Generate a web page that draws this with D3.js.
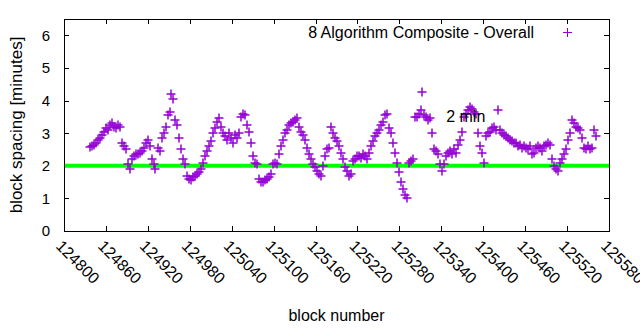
<!DOCTYPE html>
<html>
<head>
<meta charset="utf-8">
<script src="https://cdn.jsdelivr.net/npm/d3@7"></script>
<style>
  body { margin: 0; background: #fff; }
  svg { font-family: "Liberation Sans", Arial, sans-serif; }
</style>
</head>
<body>
<div id="chart"></div>
<script>
// block numbers and spacing
var blocks = [
  124837, 124840, 124843, 124846, 124849, 124852, 124854, 124857, 124860, 124863,
  124866, 124869, 124872, 124874, 124877, 124880, 124883, 124886, 124889, 124892,
  124894, 124897, 124900, 124903, 124906, 124909, 124912, 124914, 124917, 124920,
  124923, 124926, 124929, 124930, 124935, 124937, 124940, 124943, 124946, 124949,
  124952, 124953, 124956, 124959, 124962, 124965, 124967, 124970, 124973, 124976,
  124979, 124982, 124985, 124987, 124990, 124993, 124996, 124999, 125002, 125005,
  125008, 125010, 125013, 125016, 125019, 125022, 125025, 125028, 125030, 125033,
  125036, 125039, 125042, 125045, 125048, 125050, 125053, 125056, 125059, 125062,
  125065, 125068, 125070, 125073, 125076, 125079, 125082, 125085, 125088, 125091,
  125093, 125096, 125099, 125102, 125105, 125108, 125111, 125113, 125116, 125119,
  125122, 125125, 125128, 125131, 125133, 125136, 125139, 125142, 125145, 125148,
  125151, 125154, 125156, 125159, 125162, 125165, 125168, 125171, 125174, 125176,
  125179, 125182, 125185, 125188, 125191, 125194, 125196, 125199, 125202, 125205,
  125208, 125211, 125214, 125216, 125219, 125222, 125225, 125228, 125231, 125234,
  125237, 125239, 125242, 125245, 125248, 125251, 125254, 125257, 125259, 125262,
  125265, 125268, 125271, 125274, 125277, 125279, 125282, 125285, 125288, 125291,
  125294, 125297, 125299, 125302, 125305, 125308, 125311, 125312, 125315, 125318,
  125321, 125324, 125327, 125330, 125332, 125335, 125338, 125341, 125344, 125347,
  125350, 125352, 125355, 125358, 125361, 125364, 125367, 125370, 125372, 125375,
  125378, 125381, 125384, 125387, 125390, 125393, 125395, 125398, 125401, 125404,
  125407, 125410, 125413, 125415, 125418, 125421, 125424, 125427, 125430, 125433,
  125436, 125438, 125441, 125444, 125447, 125450, 125453, 125455, 125458, 125461,
  125464, 125467, 125470, 125473, 125476, 125478, 125481, 125484, 125487, 125490,
  125493, 125496, 125498, 125501, 125504, 125507, 125510, 125513, 125516, 125518,
  125521, 125524, 125527, 125530, 125533, 125536, 125538, 125541, 125544, 125547,
  125550, 125553, 125556, 125559, 125561
];

var spacing = [
  2.57, 2.6, 2.65, 2.7, 2.8, 2.85, 2.95, 3.05, 3.15, 3.1,
  3.25, 3.3, 3.2, 3.15, 3.25, 3.2, 2.7, 2.6, 2.5, 2.05,
  1.9, 2.2, 2.3, 2.35, 2.35, 2.4, 2.45, 2.55, 2.7, 2.8,
  2.6, 2.2, 2.05, 1.9, 2.55, 2.45, 2.85, 3.0, 3.2, 3.55,
  3.65, 4.2, 4.05, 3.4, 3.25, 2.85, 2.5, 2.2, 2.05, 1.7,
  1.6, 1.55, 1.65, 1.7, 1.75, 1.8, 1.9, 2.1, 2.3, 2.45,
  2.6, 2.75, 3.0, 3.15, 3.35, 3.45, 3.2, 3.0, 2.9, 2.8,
  3.0, 2.85, 2.7, 2.95, 2.85, 3.0, 3.5, 3.6, 3.55, 3.25,
  3.05, 2.7, 2.3, 2.1, 2.05, 1.6, 1.5, 1.5, 1.55, 1.6,
  1.65, 1.75, 2.05, 2.1, 2.05, 2.35, 2.6, 2.8, 3.0, 3.1,
  3.25, 3.3, 3.35, 3.4, 3.45, 3.2, 3.05, 2.95, 2.8, 2.55,
  2.35, 2.2, 2.05, 1.95, 1.85, 1.75, 1.7, 2.0, 2.3, 2.5,
  2.55, 3.2, 3.0, 2.85, 2.75, 2.6, 2.4, 2.2, 1.95, 1.85,
  1.7, 1.75, 2.15, 2.2, 2.3, 2.3, 2.25, 2.35, 2.3, 2.2,
  2.4, 2.6, 2.75, 2.9, 3.0, 3.1, 3.25, 3.35, 3.55, 3.6,
  3.15, 3.0, 2.7, 2.4, 2.1, 1.8, 1.5, 1.3, 1.1, 1.0,
  2.1, 2.15, 2.2, 3.5, 3.5, 3.6, 3.7, 4.25, 3.55, 3.5,
  3.4, 3.45, 3.0, 2.5, 2.45, 2.35, 2.05, 1.85, 2.05, 2.3,
  2.4, 2.45, 2.35, 2.5, 2.4, 2.65, 2.8, 3.05, 3.5, 3.6,
  3.7, 3.8, 3.75, 3.65, 3.6, 3.0, 2.6, 2.4, 2.1, 2.9,
  3.0, 3.05, 3.15, 3.2, 3.1, 3.7, 3.1, 3.0, 2.95, 2.9,
  2.85, 2.8, 2.75, 2.7, 2.7, 2.6, 2.65, 2.55, 2.6, 2.55,
  2.5, 2.6, 2.35, 2.4, 2.55, 2.6, 2.55, 2.45, 2.6, 2.65,
  2.7, 2.65, 2.2, 2.0, 1.9, 1.85, 2.1, 2.2, 2.35, 2.5,
  2.8, 3.0, 3.4, 3.3, 3.2, 3.15, 3.1, 2.85, 2.55, 2.5,
  2.6, 2.5, 2.55, 3.1, 2.9
];

var xTicks = [124800, 124860, 124920, 124980, 125040, 125100, 125160,
              125220, 125280, 125340, 125400, 125460, 125520, 125580];
var yTicks = [0, 1, 2, 3, 4, 5, 6];
var target = 2;
var seriesName = "8 Algorithm Composite - Overall";
var targetLabel = "2 min";
var targetLabelAt = [125347, 3.5];

var W = 640, H = 330,
    margin = {top: 19, right: 31, bottom: 99, left: 64},
    width = W - margin.left - margin.right,
    height = H - margin.top - margin.bottom;

var PURPLE = "#9400d3", GREEN = "#00ff00";

var svg = d3.select("#chart").append("svg")
    .attr("width", W)
    .attr("height", H);

var g = svg.append("g")
    .attr("transform", "translate(" + margin.left + "," + margin.top + ")");

var x = d3.scaleLinear().domain([124800, 125580]).range([0, width]);
var y = d3.scaleLinear().domain([0, 6.5]).range([height, 0]);

// tick marks, mirrored on all four sides
var tickLen = 5;
var ticks = g.append("g")
    .attr("stroke", "#000")
    .attr("shape-rendering", "crispEdges");
ticks.selectAll(".xb")
    .data(xTicks)
    .join("line")
    .attr("class", "xb")
    .attr("x1", function (d) { return Math.round(x(d)) + 0.5; })
    .attr("x2", function (d) { return Math.round(x(d)) + 0.5; })
    .attr("y1", height)
    .attr("y2", height - tickLen);
ticks.selectAll(".xt")
    .data(xTicks)
    .join("line")
    .attr("class", "xt")
    .attr("x1", function (d) { return Math.round(x(d)) + 0.5; })
    .attr("x2", function (d) { return Math.round(x(d)) + 0.5; })
    .attr("y1", 0)
    .attr("y2", tickLen);
ticks.selectAll(".yl")
    .data(yTicks)
    .join("line")
    .attr("class", "yl")
    .attr("y1", function (d) { return Math.round(y(d)) + 0.5; })
    .attr("y2", function (d) { return Math.round(y(d)) + 0.5; })
    .attr("x1", 0)
    .attr("x2", tickLen);
ticks.selectAll(".yr")
    .data(yTicks)
    .join("line")
    .attr("class", "yr")
    .attr("y1", function (d) { return Math.round(y(d)) + 0.5; })
    .attr("y2", function (d) { return Math.round(y(d)) + 0.5; })
    .attr("x1", width)
    .attr("x2", width - tickLen);

// y tick labels
g.append("g").selectAll("text")
    .data(yTicks)
    .join("text")
    .attr("x", -14)
    .attr("y", function (d) { return y(d); })
    .attr("dy", "0.36em")
    .attr("text-anchor", "end")
    .style("font-size", "15px")
    .text(function (d) { return d; });

// x tick labels, rotated
g.append("g").selectAll("text")
    .data(xTicks)
    .join("text")
    .attr("transform", function (d) {
        return "translate(" + (x(d) - 9) + "," + (height + 16) + ") rotate(45)";
    })
    .attr("text-anchor", "start")
    .style("font-size", "16px")
    .text(function (d) { return d; });

// 2 minute target line
g.append("line")
    .attr("x1", 0)
    .attr("x2", width)
    .attr("y1", y(target))
    .attr("y2", y(target))
    .attr("stroke", GREEN)
    .attr("stroke-width", 4);

// points
var plus = "M-4.5,0H4.5M0,-4.5V4.5";
g.append("g")
    .selectAll("path")
    .data(blocks)
    .join("path")
    .attr("transform", function (d, i) {
        return "translate(" + Math.round(x(d)) + "," + Math.round(y(spacing[i])) + ")";
    })
    .attr("d", plus)
    .attr("stroke", PURPLE)
    .attr("stroke-width", 1.5)
    .attr("fill", "none");

// border
g.append("rect")
    .attr("x", 0.5)
    .attr("y", 0.5)
    .attr("width", width)
    .attr("height", height)
    .attr("fill", "none")
    .attr("stroke", "#000")
    .attr("shape-rendering", "crispEdges");

// legend
g.append("text")
    .attr("x", 470)
    .attr("y", 13)
    .attr("dy", "0.35em")
    .attr("text-anchor", "end")
    .style("font-size", "16px")
    .text(seriesName);
g.append("path")
    .attr("transform", "translate(503.5,13.5)")
    .attr("d", plus)
    .attr("stroke", PURPLE)
    .attr("fill", "none")
    .attr("shape-rendering", "crispEdges");

g.append("text")
    .attr("x", x(targetLabelAt[0]))
    .attr("y", y(targetLabelAt[1]))
    .attr("dy", "0.35em")
    .style("font-size", "16px")
    .text(targetLabel);

// axis titles
svg.append("text")
    .attr("transform", "translate(22," + (margin.top + height / 2) + ") rotate(-90)")
    .attr("text-anchor", "middle")
    .style("font-size", "17px")
    .text("block spacing [minutes]");
svg.append("text")
    .attr("x", margin.left + width / 2)
    .attr("y", 321)
    .attr("text-anchor", "middle")
    .style("font-size", "16px")
    .text("block number");
</script>
</body>
</html>
